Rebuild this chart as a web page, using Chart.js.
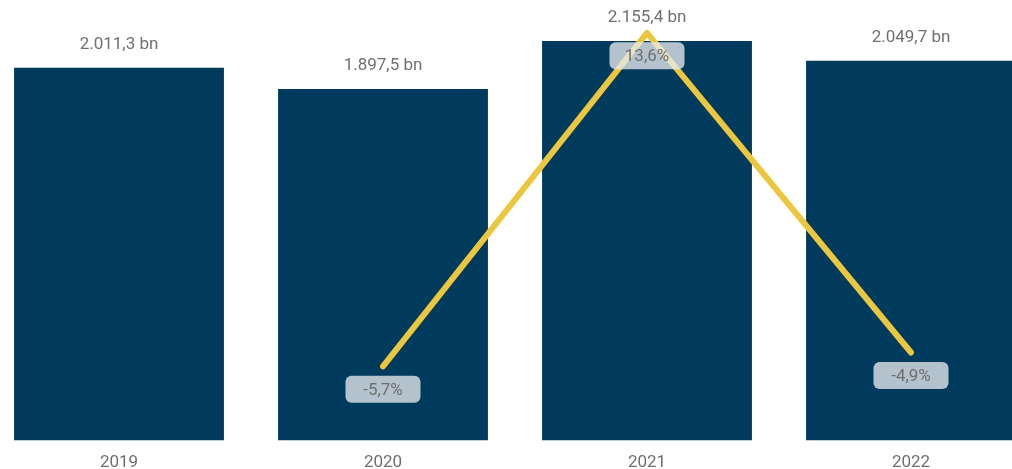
<!DOCTYPE html>
<html>
<head>
<meta charset="utf-8">
<script src="https://cdn.jsdelivr.net/npm/chart.js@4"></script>
<style>
  html, body { margin: 0; padding: 0; background: #fff; overflow: hidden; }
  #wrap { position: absolute; left: -13px; top: 0; width: 1056px; height: 477px; }
</style>
</head>
<body>
<div id="wrap"><canvas id="myChart"></canvas></div>
<script>
// values
var years = ['2019', '2020', '2021', '2022'];
var revenue = [2011.3, 1897.5, 2155.4, 2049.7];
var revenueLabels = ['2.011,3 bn', '1.897,5 bn', '2.155,4 bn', '2.049,7 bn'];
var growth = [null, -5.7, 13.6, -4.9];
var growthLabels = [null, '-5,7%', '13,6%', '-4,9%'];

var labelFont = '17px Roboto';
var textGrey = '#707070';

// draws the value labels above the bars and the boxes under the line points
var valueLabels = {
  id: 'valueLabels',
  afterDatasetsDraw: function(chart) {
    var c = chart.ctx;
    c.save();
    c.font = labelFont;
    c.textAlign = 'center';
    c.textBaseline = 'middle';

    // dataset 1 = bars
    chart.getDatasetMeta(1).data.forEach(function(bar, i) {
      c.fillStyle = textGrey;
      c.fillText(revenueLabels[i], bar.x, bar.y - 23);
    });

    // dataset 0 = growth line
    chart.getDatasetMeta(0).data.forEach(function(pt, i) {
      if (growth[i] == null) return;
      var cy = pt.y + 23;
      var w = 75, h = 27;
      c.fillStyle = 'rgba(230, 233, 236, 0.78)';
      c.beginPath();
      c.roundRect(pt.x - w / 2, cy - h / 2, w, h, 6);
      c.fill();
      c.fillStyle = textGrey;
      c.fillText(growthLabels[i], pt.x, cy + 1);
    });
    c.restore();
  }
};

var ctx = document.getElementById('myChart');

var myChart = new Chart(ctx, {
  type: 'bar',
  data: {
    labels: years,
    datasets: [{
      type: 'line',
      data: growth,
      yAxisID: 'y1',
      borderColor: '#EBC73F',
      borderWidth: 6,
      borderCapStyle: 'round',
      borderJoinStyle: 'round',
      pointRadius: 0,
      tension: 0,
      order: 0
    }, {
      type: 'bar',
      data: revenue,
      yAxisID: 'y',
      backgroundColor: '#003A5D',
      categoryPercentage: 1,
      barPercentage: 0.795,
      order: 1
    }]
  },
  options: {
    responsive: true,
    maintainAspectRatio: false,
    animation: false,
    layout: { padding: 0 },
    plugins: {
      legend: { display: false },
      tooltip: { enabled: false }
    },
    scales: {
      x: {
        grid: { display: false },
        border: { display: false },
        ticks: {
          color: textGrey,
          font: { family: 'Roboto', size: 17 },
          padding: 4
        }
      },
      y: {
        display: false,
        min: 0,
        max: 2377
      },
      y1: {
        display: false,
        min: -10,
        max: 15.5
      }
    }
  },
  plugins: [valueLabels]
});
</script>
</body>
</html>
